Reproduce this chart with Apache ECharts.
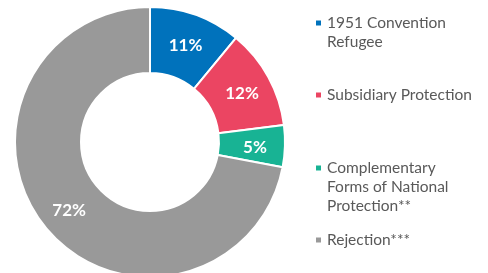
<!DOCTYPE html>
<html>
<head>
<meta charset="utf-8">
<script src="https://cdn.jsdelivr.net/npm/echarts@6/dist/echarts.min.js"></script>
<style>html,body{margin:0;padding:0;background:#fff;}#c{width:488px;height:273px;}</style>
</head>
<body>
<div id="c"></div>
<script>
const categories = ['1951 Convention Refugee', 'Subsidiary Protection', 'Complementary Forms of National Protection**', 'Rejection***'];
const legendLines = [['1951 Convention', 'Refugee'], ['Subsidiary Protection'], ['Complementary', 'Forms of National', 'Protection**'], ['Rejection***']];
const values = [11, 12, 5, 72];
const colors = ['#0072BC', '#EB4562', '#18B394', '#999999'];

const chart = echarts.init(document.getElementById('c'), null, {renderer: 'canvas'});
const font = 'Lato, "Noto Sans", sans-serif';
const legendTops = [23, 95, 168, 240];
const lineH = 19;
const graphics = [];
categories.forEach((c, i) => {
  graphics.push({type: 'rect', left: 316, top: legendTops[i] - 2.5, shape: {width: 5, height: 5}, style: {fill: colors[i]}});
  graphics.push({type: 'text', left: 327, top: legendTops[i] - lineH / 2, style: {text: legendLines[i].join('\n'), fill: '#595959', font: '15.5px ' + font, lineHeight: lineH}});
});

chart.setOption({
  animation: false,
  color: colors,
  graphic: graphics,
  series: [{
    type: 'pie',
    center: [150, 142],
    radius: [69, 135],
    startAngle: 90,
    clockwise: true,
    avoidLabelOverlap: false,
    itemStyle: {borderColor: '#fff', borderWidth: 2},
    label: {show: true, position: 'inside', color: '#fff', fontSize: 17, fontFamily: font, fontWeight: 'bold', formatter: '{c}%', offset: [0, 2]},
    labelLine: {show: false},
    emphasis: {disabled: true},
    data: categories.map((c, i) => ({name: c, value: values[i]}))
  }]
});
</script>
</body>
</html>
